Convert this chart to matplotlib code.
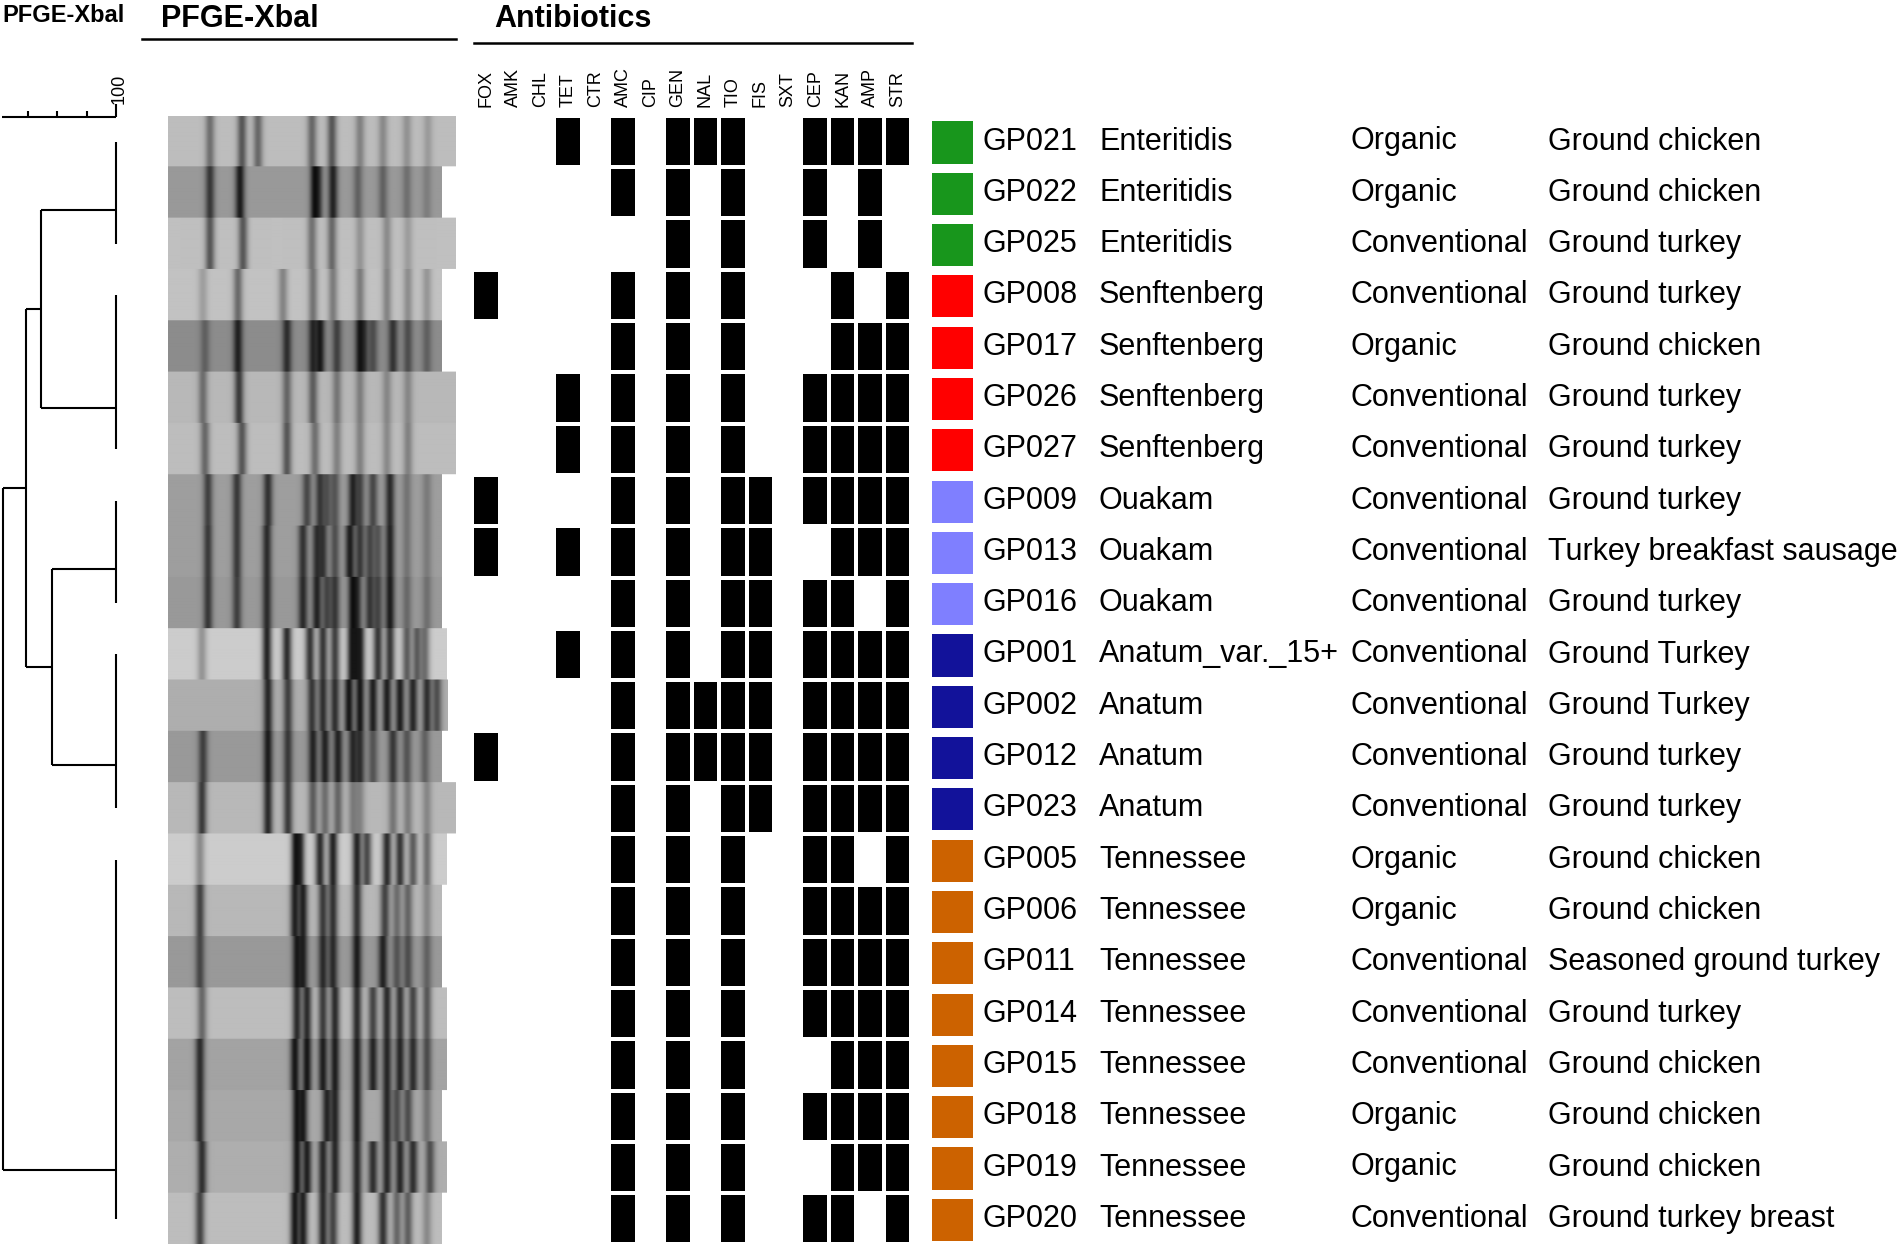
import numpy as np
import matplotlib
matplotlib.use('Agg')
import matplotlib.pyplot as plt
from matplotlib.colors import ListedColormap
from matplotlib.lines import Line2D

plt.rcParams['font.family'] = ['Liberation Sans', 'DejaVu Sans']

# ---- data ----
isolates = ['GP021', 'GP022', 'GP025', 'GP008', 'GP017', 'GP026', 'GP027',
            'GP009', 'GP013', 'GP016', 'GP001', 'GP002', 'GP012', 'GP023',
            'GP005', 'GP006', 'GP011', 'GP014', 'GP015', 'GP018', 'GP019', 'GP020']
serotypes = ['Enteritidis'] * 3 + ['Senftenberg'] * 4 + ['Ouakam'] * 3 + \
            ['Anatum_var._15+'] + ['Anatum'] * 3 + ['Tennessee'] * 8
sources = ['Organic', 'Organic', 'Conventional', 'Conventional', 'Organic',
           'Conventional', 'Conventional', 'Conventional', 'Conventional',
           'Conventional', 'Conventional', 'Conventional', 'Conventional',
           'Conventional', 'Organic', 'Organic', 'Conventional', 'Conventional',
           'Conventional', 'Organic', 'Organic', 'Conventional']
products = ['Ground chicken', 'Ground chicken', 'Ground turkey', 'Ground turkey',
            'Ground chicken', 'Ground turkey', 'Ground turkey', 'Ground turkey',
            'Turkey breakfast sausage', 'Ground turkey', 'Ground Turkey',
            'Ground Turkey', 'Ground turkey', 'Ground turkey', 'Ground chicken',
            'Ground chicken', 'Seasoned ground turkey', 'Ground turkey',
            'Ground chicken', 'Ground chicken', 'Ground chicken',
            'Ground turkey breast']
sero_colors = {'Enteritidis': '#18961c', 'Senftenberg': '#ff0000',
               'Ouakam': '#7f7fff', 'Anatum_var._15+': '#12129a',
               'Anatum': '#12129a', 'Tennessee': '#cc6200'}

antibiotics = ['FOX', 'AMK', 'CHL', 'TET', 'CTR', 'AMC', 'CIP', 'GEN',
               'NAL', 'TIO', 'FIS', 'SXT', 'CEP', 'KAN', 'AMP', 'STR']
resistant = [
    ['TET', 'AMC', 'GEN', 'NAL', 'TIO', 'CEP', 'KAN', 'AMP', 'STR'],
    ['AMC', 'GEN', 'TIO', 'CEP', 'AMP'],
    ['GEN', 'TIO', 'CEP', 'AMP'],
    ['FOX', 'AMC', 'GEN', 'TIO', 'KAN', 'STR'],
    ['AMC', 'GEN', 'TIO', 'KAN', 'AMP', 'STR'],
    ['TET', 'AMC', 'GEN', 'TIO', 'CEP', 'KAN', 'AMP', 'STR'],
    ['TET', 'AMC', 'GEN', 'TIO', 'CEP', 'KAN', 'AMP', 'STR'],
    ['FOX', 'AMC', 'GEN', 'TIO', 'FIS', 'CEP', 'KAN', 'AMP', 'STR'],
    ['FOX', 'TET', 'AMC', 'GEN', 'TIO', 'FIS', 'KAN', 'AMP', 'STR'],
    ['AMC', 'GEN', 'TIO', 'FIS', 'CEP', 'KAN', 'STR'],
    ['TET', 'AMC', 'GEN', 'TIO', 'FIS', 'CEP', 'KAN', 'AMP', 'STR'],
    ['AMC', 'GEN', 'NAL', 'TIO', 'FIS', 'CEP', 'KAN', 'AMP', 'STR'],
    ['FOX', 'AMC', 'GEN', 'NAL', 'TIO', 'FIS', 'CEP', 'KAN', 'AMP', 'STR'],
    ['AMC', 'GEN', 'TIO', 'FIS', 'CEP', 'KAN', 'AMP', 'STR'],
    ['AMC', 'GEN', 'TIO', 'CEP', 'KAN', 'STR'],
    ['AMC', 'GEN', 'TIO', 'CEP', 'KAN', 'AMP', 'STR'],
    ['AMC', 'GEN', 'TIO', 'CEP', 'KAN', 'AMP', 'STR'],
    ['AMC', 'GEN', 'TIO', 'CEP', 'KAN', 'AMP', 'STR'],
    ['AMC', 'GEN', 'TIO', 'KAN', 'AMP', 'STR'],
    ['AMC', 'GEN', 'TIO', 'CEP', 'KAN', 'AMP', 'STR'],
    ['AMC', 'GEN', 'TIO', 'KAN', 'AMP', 'STR'],
    ['AMC', 'GEN', 'TIO', 'CEP', 'KAN', 'STR'],
]

# dendrogram: leaf clusters (row indices), row where each cluster hangs, merges
clusters = [[0, 1, 2], [3, 4, 5, 6], [7, 8, 9], [10, 11, 12, 13],
            list(range(14, 22))]
cluster_join = [1.34, 5.19, 8.33, 12.16, 20.04]
merges = [(0, 1, 74.7), (2, 3, 78.2), (5, 6, 69.6), (7, 4, 61.6)]
scale_ticks = [70, 80, 90, 100]

# PFGE lanes: background grey, lane length, bands (position, darkness)
gel_bg = [0.74, 0.60, 0.75, 0.76, 0.55, 0.72, 0.74, 0.62, 0.62, 0.60, 0.80,
          0.68, 0.60, 0.72, 0.80, 0.72, 0.60, 0.74, 0.64, 0.66, 0.68, 0.74]
gel_len = [288, 274, 288, 274, 274, 288, 288, 274, 274, 274, 279,
           280, 274, 288, 279, 274, 274, 279, 279, 274, 279, 274]
gel_bands = [
    [(42, .45), (74, .6), (90, .5), (144, .5), (164, .6), (192, .35), (215, .3), (239, .25), (260, .2)],
    [(42, .7), (72, .9), (147, .95), (150, .6), (165, .85), (190, .4), (215, .4), (239, .3), (259, .2)],
    [(42, .6), (75, .6), (144, .45), (164, .5), (192, .25), (219, .3), (240, .2)],
    [(35, .2), (70, .5), (115, .35), (145, .45), (165, .4), (192, .4), (219, .35), (240, .3), (259, .25)],
    [(37, .35), (70, .85), (119, .75), (145, .8), (152, .9), (169, .6), (192, .9), (196, .6), (205, .5), (225, .7), (240, .5), (259, .35)],
    [(35, .45), (71, .75), (119, .5), (145, .55), (169, .4), (192, .35), (219, .3), (240, .3)],
    [(37, .5), (74, .6), (119, .6), (147, .45), (169, .35), (192, .35), (219, .3), (240, .35)],
    [(40, .65), (69, .7), (100, .75), (139, .6), (152, .7), (159, .5), (167, .5), (185, .85), (192, .6), (205, .6), (222, .8), (239, .3), (259, .25)],
    [(40, .7), (69, .7), (99, .8), (135, .75), (149, .75), (155, .7), (167, .55), (182, .9), (192, .7), (202, .6), (210, .5), (222, .85), (239, .3), (259, .25)],
    [(40, .7), (69, .65), (99, .8), (135, .8), (149, .85), (159, .6), (167, .7), (185, .95), (189, .7), (202, .7), (210, .6), (222, .9), (239, .35), (259, .3)],
    [(34, .3), (99, .9), (119, .85), (142, .8), (155, .8), (167, .75), (184, .9), (188, .8), (192, .85), (210, .8), (222, .8), (239, .6), (249, .6), (257, .5)],
    [(100, .85), (120, .7), (144, .75), (155, .8), (167, .8), (181, .95), (192, .95), (205, .9), (219, .9), (232, .9), (245, .85), (259, .8), (269, .6)],
    [(35, .65), (100, .9), (120, .7), (145, .85), (157, .85), (170, .85), (185, .8), (192, .75), (205, .5), (225, .7), (239, .5), (257, .4)],
    [(34, .75), (100, .85), (120, .75), (145, .55), (157, .45), (170, .5), (185, .35), (192, .3), (225, .4), (240, .35), (259, .3)],
    [(32, .35), (128, .95), (132, .8), (152, .85), (165, .9), (189, .9), (199, .7), (219, .85), (232, .8), (245, .6), (259, .5)],
    [(32, .7), (127, .9), (135, .9), (155, .75), (165, .8), (189, .8), (217, .7), (229, .45), (240, .5), (259, .3)],
    [(32, .6), (129, .9), (135, .85), (155, .8), (165, .8), (189, .9), (215, .85), (229, .5), (240, .55), (259, .4)],
    [(34, .5), (129, .85), (139, .85), (155, .75), (167, .85), (189, .85), (205, .7), (219, .85), (232, .8), (245, .7), (259, .6)],
    [(32, .8), (127, .95), (139, .95), (155, .9), (167, .9), (189, .9), (205, .85), (219, .85), (232, .85), (245, .8), (259, .6)],
    [(32, .8), (129, .95), (135, .9), (159, .85), (167, .85), (189, .9), (219, .85), (229, .6), (240, .6), (259, .35)],
    [(34, .8), (129, .95), (139, .9), (155, .85), (167, .85), (189, .85), (205, .8), (219, .85), (232, .85), (245, .8), (262, .6)],
    [(32, .7), (127, .95), (135, .9), (155, .85), (165, .7), (189, .9), (215, .8), (229, .5), (240, .55), (259, .3)],
]

# ---- layout (pixels) ----
W, H = 1900, 1249
ROW0, ROWH = 141.5, 51.3
n = len(isolates)
TOP, BOT = ROW0 - ROWH / 2, ROW0 + (n - 0.5) * ROWH

fig = plt.figure(figsize=(W / 100, H / 100), dpi=100)


def px_axes(x0, y0, x1, y1):
    ax = fig.add_axes([x0 / W, 1 - y1 / H, (x1 - x0) / W, (y1 - y0) / H])
    ax.set_ylim((y1 - ROW0) / ROWH, (y0 - ROW0) / ROWH)
    ax.axis('off')
    return ax


def row_px(p):
    return (p - ROW0) / ROWH


# ---- dendrogram ----
axd = px_axes(0, 60, 130, H)
sim = lambda x: 100 - (116 - x) / 2.95
axd.set_xlim(sim(0), sim(130))
lk = dict(color='black', lw=1.5, solid_capstyle='butt')
node_y = list(cluster_join)
node_x = [100] * len(clusters)
for c in clusters:
    axd.plot([100, 100], [c[0], c[-1]], **lk)
for a, b, s in merges:
    axd.plot([s, node_x[a]], [node_y[a]] * 2, **lk)
    axd.plot([s, node_x[b]], [node_y[b]] * 2, **lk)
    axd.plot([s, s], [node_y[a], node_y[b]], **lk)
    node_x.append(s)
    node_y.append((node_y[a] + node_y[b]) / 2)
ybar = row_px(117)
axd.plot([sim(2), 100], [ybar, ybar], **lk)
for t in scale_ticks:
    top = row_px(104) if t == 100 else row_px(111)
    axd.plot([t, t], [ybar, top], **lk)
axd.text(100.9, row_px(104), '100', rotation=90, ha='center', va='bottom',
         fontsize=13)

# ---- gel image ----
axg = px_axes(168, TOP, 456, BOT)
per = 50
xs = np.arange(288) + 0.5
img = np.ones((n * per, 288))
for i in range(n):
    prof = np.full(288, gel_bg[i])
    for pos, d in gel_bands[i]:
        prof *= 1 - 0.9 * d * np.exp(-0.5 * ((xs - pos) / 3.4) ** 2)
    prof[xs > gel_len[i]] = 1.0
    img[i * per:(i + 1) * per] = prof
axg.imshow(img, cmap='gray', vmin=0, vmax=1, aspect='auto',
           extent=(0, 288, n - 0.5, -0.5), interpolation='bilinear')
axg.set_xlim(0, 288)
axg.set_ylim(n - 0.5, -0.5)

# ---- resistance matrix ----
mat = np.array([[1 if ab in r else 0 for ab in antibiotics] for r in resistant])
CW = 27.45
axm = px_axes(485.8 - CW / 2, TOP, 485.8 + 15.5 * CW, BOT)
axm.axis('on')
for s in axm.spines.values():
    s.set_visible(False)
axm.pcolormesh(np.arange(len(antibiotics) + 1) - 0.5, np.arange(n + 1) - 0.5,
               mat, cmap=ListedColormap(['white', 'black']), vmin=0, vmax=1,
               edgecolors='white', linewidth=1.75)
axm.set_ylim(n - 0.5, -0.5)
axm.set_xlim(-0.5, len(antibiotics) - 0.5)
axm.xaxis.tick_top()
axm.set_xticks(range(len(antibiotics)))
axm.set_xticklabels(antibiotics, rotation=90, fontsize=13)
axm.set_yticks([])
axm.tick_params(length=0, pad=6.5)

# ---- serotype squares and labels ----
axt = px_axes(925, TOP, W, BOT)
axt.set_xlim(925, W)
rows = np.arange(n)
axt.barh(rows + 0.02, 41, left=932, height=0.82,
         color=[sero_colors[s] for s in serotypes])
for r in rows:
    for x, txt in zip([983, 1099, 1350, 1548],
                      [isolates[r], serotypes[r], sources[r], products[r]]):
        axt.text(x, r, txt, va='center', ha='left', fontsize=22)

# ---- headers ----
fig.text(2 / W, 1 - 16 / H, 'PFGE-Xbal', fontsize=17, weight='bold', va='center')
fig.text(161 / W, 1 - 19 / H, 'PFGE-Xbal', fontsize=22, weight='bold', va='center')
fig.text(494 / W, 1 - 19 / H, 'Antibiotics', fontsize=22, weight='bold', va='center')
fig.add_artist(Line2D([142 / W, 456 / W], [1 - 39 / H] * 2, color='black', lw=1.8))
fig.add_artist(Line2D([474 / W, 912 / W], [1 - 43 / H] * 2, color='black', lw=1.8))

fig.savefig('out.png', dpi=100, facecolor='white')
